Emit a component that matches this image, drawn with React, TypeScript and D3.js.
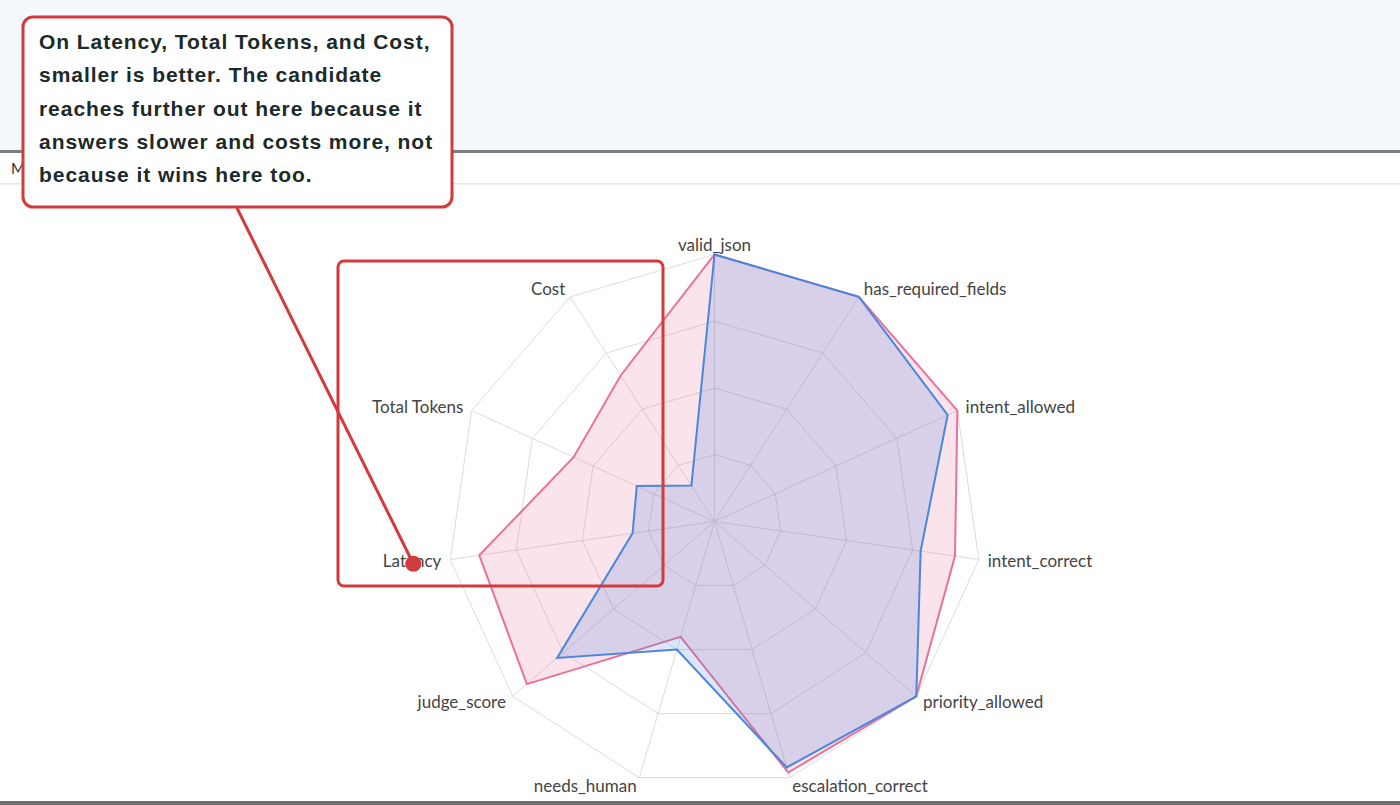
import React from "react"
import * as d3 from "d3"

// radar axes, clockwise from the top
const AXES = [
  "valid_json",
  "has_required_fields",
  "intent_allowed",
  "intent_correct",
  "priority_allowed",
  "escalation_correct",
  "needs_human",
  "judge_score",
  "Latency",
  "Total Tokens",
  "Cost",
]

const CANDIDATE = [1.0, 1.0, 1.0, 0.91, 1.0, 0.98, 0.45, 0.93, 0.89, 0.58, 0.65]
const BASELINE = [1.0, 1.0, 0.96, 0.78, 1.0, 0.96, 0.5, 0.78, 0.31, 0.32, 0.16]

const RING_TICKS = [0.25, 0.5, 0.75, 1]

const NOTE_LINES = [
  "On Latency, Total Tokens, and Cost,",
  "smaller is better. The candidate",
  "reaches further out here because it",
  "answers slower and costs more, not",
  "because it wins here too.",
]

const WIDTH = 1400
const HEIGHT = 805
const CX = 714.5
const CY = 521.5
const R = 267

const PINK = "#e8729a"
const BLUE = "#4a86dc"
const RED = "#d13b3d"

export default function App() {
  const n = AXES.length
  const angle = d3.scaleLinear().domain([0, n]).range([0, 2 * Math.PI])
  const radius = d3.scaleLinear().domain([0, 1]).range([0, R])

  const radar = d3
    .lineRadial<number>()
    .angle((_, i) => angle(i))
    .radius((d) => radius(d))
    .curve(d3.curveLinearClosed)

  const ring = (t: number) => radar(AXES.map(() => t)) ?? ""

  const series = [
    { name: "Candidate", values: CANDIDATE, color: PINK },
    { name: "Baseline", values: BASELINE, color: BLUE },
  ]

  // Latency label anchor; the callout dot sits on the middle of the word
  const [lx, ly] = d3.pointRadial(angle(8), radius(1) + 9)
  const dotX = CX + lx - 28
  const dotY = CY + ly + 3

  return (
    <svg
      width={WIDTH}
      height={HEIGHT}
      style={{ position: "absolute", left: 0, top: 0, display: "block", background: "#fff" }}
    >
      {/* page chrome */}
      <rect x={0} y={0} width={WIDTH} height={151} fill="#f5f8fa" />
      <rect x={0} y={150} width={WIDTH} height={3} fill="#7d7d7d" />
      <text x={11} y={174} fontFamily="Lato, sans-serif" fontSize={15} fill="#333">
        Metrics
      </text>
      <rect x={0} y={183} width={WIDTH} height={1.5} fill="#e6e6e6" />
      <rect x={0} y={801} width={WIDTH} height={4} fill="#707070" />

      <g transform={`translate(${CX},${CY})`}>
        {/* grid */}
        {RING_TICKS.map((t) => (
          <path key={t} d={ring(t)} fill="none" stroke="#dcdcdc" strokeWidth={1} />
        ))}
        {AXES.map((a, i) => {
          const [x, y] = d3.pointRadial(angle(i), radius(1))
          return <line key={a} x1={0} y1={0} x2={x} y2={y} stroke="#dcdcdc" strokeWidth={1} />
        })}

        {/* datasets */}
        {series.map((s) => (
          <path
            key={s.name}
            d={radar(s.values) ?? ""}
            fill={s.color}
            fillOpacity={0.2}
            stroke={s.color}
            strokeWidth={2}
            strokeLinejoin="miter"
          />
        ))}

        {/* point labels */}
        {AXES.map((a, i) => {
          const [x, y] = d3.pointRadial(angle(i), radius(1) + 9)
          const s = Math.sin(angle(i))
          const anchor = Math.abs(s) < 0.05 ? "middle" : s > 0 ? "start" : "end"
          return (
            <text
              key={a}
              x={x}
              y={y}
              dy="0.35em"
              textAnchor={anchor}
              fontFamily="Lato, sans-serif"
              fontSize={17}
              fill="#444"
            >
              {a}
            </text>
          )
        })}
      </g>

      {/* annotation */}
      <rect x={338} y={261} width={325} height={325} rx={6} fill="none" stroke={RED} strokeWidth={3} />
      <line x1={237} y1={208} x2={dotX} y2={dotY} stroke={RED} strokeWidth={3} />
      <circle cx={dotX} cy={dotY} r={8} fill={RED} />
      <rect x={23} y={17} width={429} height={190} rx={10} fill="#fff" stroke={RED} strokeWidth={3} />
      {NOTE_LINES.map((t, i) => (
        <text
          key={t}
          x={39}
          y={49 + i * 33.3}
          fontFamily="'Liberation Sans', Arial, sans-serif"
          fontWeight="bold"
          fontSize={21}
          letterSpacing={0.95}
          fill="#1c2a2a"
        >
          {t}
        </text>
      ))}
    </svg>
  )
}
